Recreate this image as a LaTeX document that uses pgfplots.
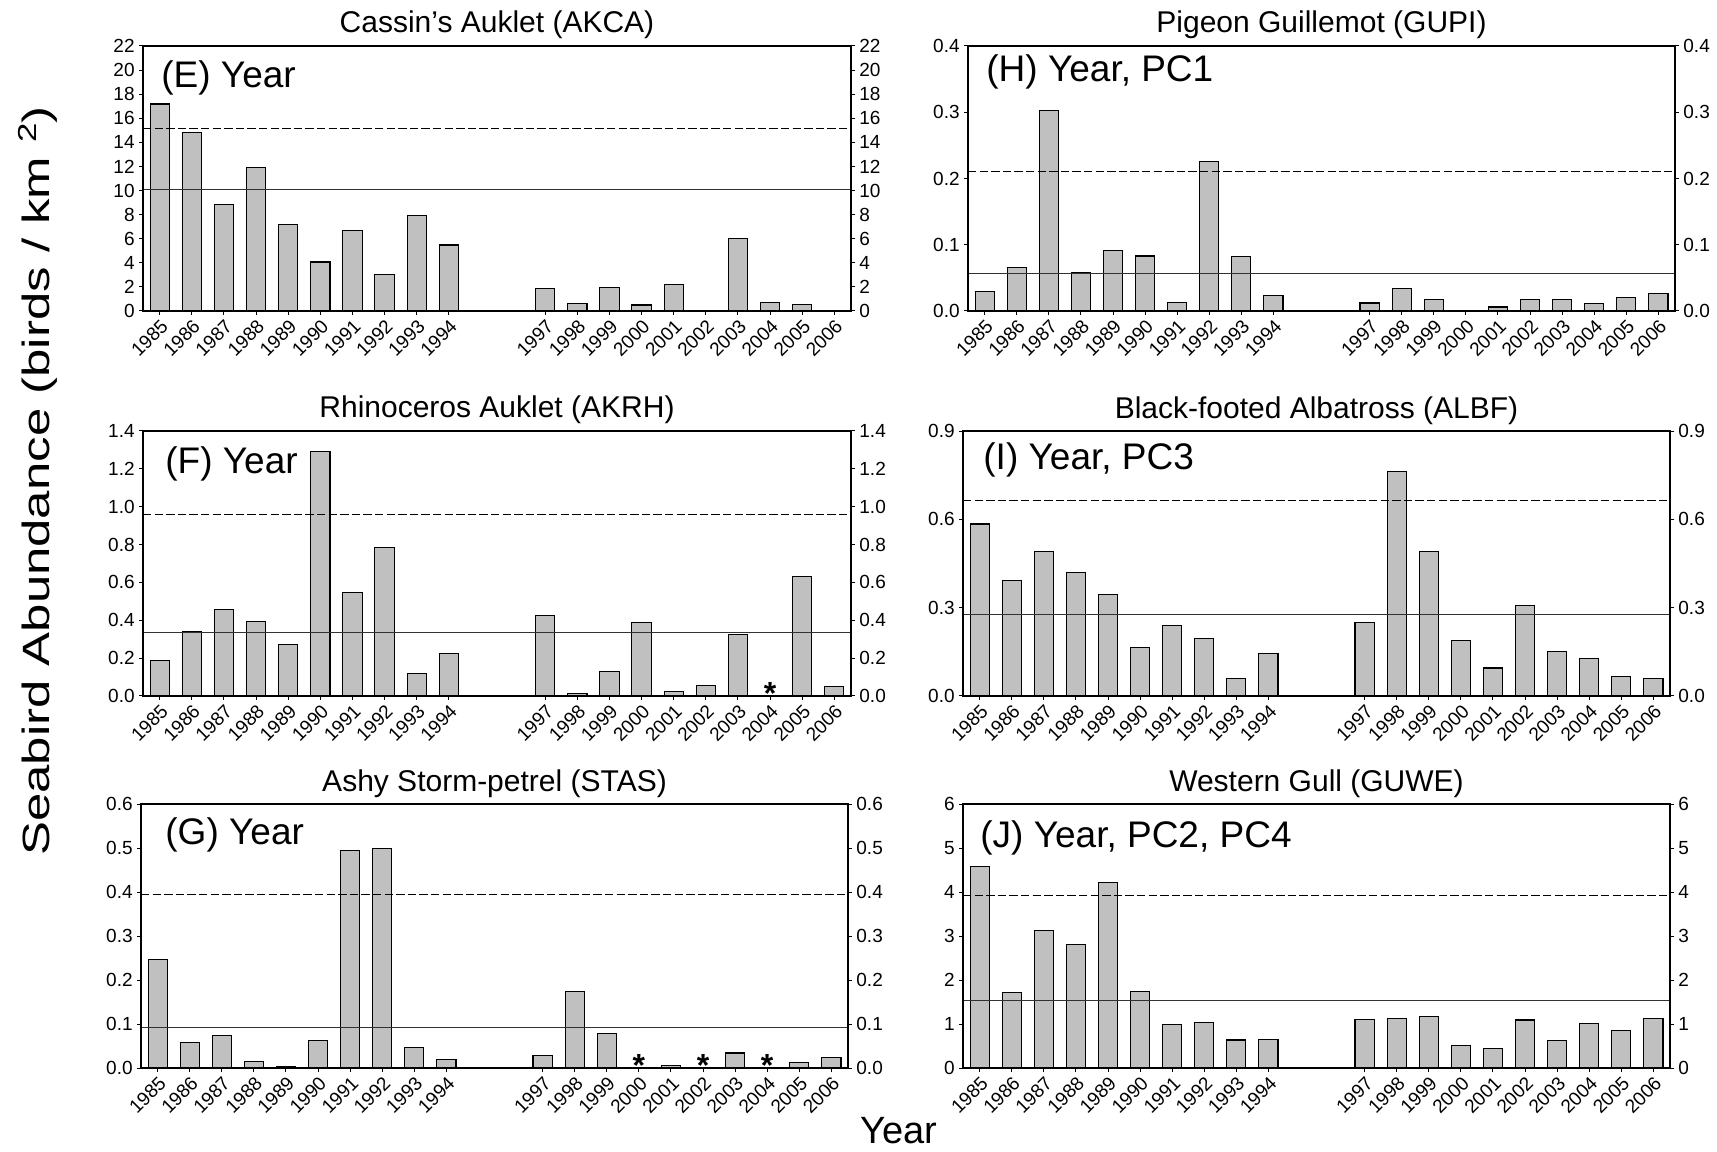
\documentclass[border=0pt]{standalone}
\usepackage{pgfplots}
\pgfplotsset{compat=1.18}
\usepackage{fontspec}
\setmainfont{Liberation Sans}
\newfontfamily\ylabfont[FakeStretch=1.34]{Liberation Sans}
\definecolor{barfill}{RGB}{192,192,192}
\definecolor{meanline}{RGB}{50,50,50}
\newcommand{\ticksize}{\fontsize{9.5}{11}\selectfont}
\newcommand{\titlesize}{\fontsize{15}{17}\selectfont}
\newcommand{\panelsize}{\fontsize{18.5}{22}\selectfont}

\pgfplotsset{
  pan/.style={
    anchor=south west, scale only axis,
    xmin=1984.48, xmax=2006.52, ymin=0,
    axis line style={line width=0.6pt},
    tick align=outside, major tick length=2pt,
    tick style={line width=0.5pt, black},
    xtick={1985,1986,1987,1988,1989,1990,1991,1992,1993,1994,1997,1998,1999,2000,2001,2002,2003,2004,2005,2006},
    xticklabels={1985,1986,1987,1988,1989,1990,1991,1992,1993,1994,1997,1998,1999,2000,2001,2002,2003,2004,2005,2006},
    x tick label style={rotate=45, anchor=north east, font=\ticksize, inner sep=1pt},
    y tick label style={font=\ticksize, inner sep=2pt},
    xtick pos=bottom, ytick pos=left,
    title style={font=\titlesize, at={(0.5,1)}, anchor=base, yshift=0.5pt},
    clip=false,
  },
  panr/.style={
    anchor=south west, scale only axis,
    xmin=1984.48, xmax=2006.52, ymin=0,
    axis line style={line width=0.6pt},
    tick align=outside, major tick length=2pt,
    tick style={line width=0.5pt, black},
    xtick=\empty,
    y tick label style={font=\ticksize, inner sep=2pt},
    ytick pos=right, yticklabel pos=right,
  },
  bars/.style={ybar, bar width=0.6, fill=barfill, draw=black, line width=0.55pt},
  meanl/.style={meanline, line width=0.5pt},
  sdl/.style={black, line width=0.5pt, dash pattern=on 4.2pt off 1.6pt},
  ast/.style={only marks, mark=text, text mark={\bfseries\fontsize{16}{16}\selectfont *}},
}

\begin{document}
\begin{tikzpicture}[x=1pt,y=1pt]
\path[use as bounding box] (0,0) rectangle (858.5,575.5);

% ---------- (E) Cassin's Auklet
\begin{axis}[pan, at={(71.5pt,420pt)}, width=354pt, height=132.5pt, ymax=22,
  ytick={0,2,...,22}, yticklabels={0,2,4,6,8,10,12,14,16,18,20,22},
  title={Cassin's Auklet (AKCA)}]
\addplot[bars] coordinates {
(1985,17.18) (1986,14.8) (1987,8.85) (1988,11.93) (1989,7.17) (1990,4.07)
(1991,6.7) (1992,3.04) (1993,7.94) (1994,5.48)
(1997,1.88) (1998,0.64) (1999,1.96) (2000,0.5) (2001,2.21) (2002,0.06)
(2003,6.0) (2004,0.72) (2005,0.55) (2006,0.06)};
\addplot[meanl] coordinates {(1984.48,10.08) (2006.52,10.08)};
\addplot[sdl] coordinates {(1984.48,15.14) (2006.52,15.14)};
\node[anchor=base west, inner sep=0pt, font=\panelsize, xshift=9pt, yshift=-21pt] at (rel axis cs:0,1) {(E) Year};
\end{axis}
\begin{axis}[panr, at={(71.5pt,420pt)}, width=354pt, height=132.5pt, ymax=22,
  ytick={0,2,...,22}, yticklabels={0,2,4,6,8,10,12,14,16,18,20,22}]
\end{axis}

% ---------- (H) Pigeon Guillemot
\begin{axis}[pan, at={(484pt,420pt)}, width=353.5pt, height=132.5pt, ymax=0.4,
  ytick={0,0.1,0.2,0.3,0.4}, yticklabels={0.0,0.1,0.2,0.3,0.4},
  title={Pigeon Guillemot (GUPI)}]
\addplot[bars] coordinates {
(1985,0.030) (1986,0.066) (1987,0.302) (1988,0.058) (1989,0.091) (1990,0.083)
(1991,0.013) (1992,0.226) (1993,0.082) (1994,0.024)
(1997,0.012) (1998,0.034) (1999,0.018) (2000,0.001) (2001,0.006) (2002,0.018)
(2003,0.017) (2004,0.011) (2005,0.021) (2006,0.026)};
\addplot[meanl] coordinates {(1984.48,0.0565) (2006.52,0.0565)};
\addplot[sdl] coordinates {(1984.48,0.210) (2006.52,0.210)};
\node[anchor=base west, inner sep=0pt, font=\panelsize, xshift=9pt, yshift=-18pt] at (rel axis cs:0,1) {(H) Year, PC1};
\end{axis}
\begin{axis}[panr, at={(484pt,420pt)}, width=353.5pt, height=132.5pt, ymax=0.4,
  ytick={0,0.1,0.2,0.3,0.4}, yticklabels={0.0,0.1,0.2,0.3,0.4}]
\end{axis}

% ---------- (F) Rhinoceros Auklet
\begin{axis}[pan, at={(71.5pt,227.5pt)}, width=354pt, height=132.5pt, ymax=1.4,
  ytick={0,0.2,0.4,0.6,0.8,1.0,1.2,1.4}, yticklabels={0.0,0.2,0.4,0.6,0.8,1.0,1.2,1.4},
  title={Rhinoceros Auklet (AKRH)}]
\addplot[bars] coordinates {
(1985,0.189) (1986,0.342) (1987,0.458) (1988,0.395) (1989,0.272) (1990,1.29)
(1991,0.547) (1992,0.785) (1993,0.118) (1994,0.224)
(1997,0.423) (1998,0.014) (1999,0.129) (2000,0.39) (2001,0.023) (2002,0.055)
(2003,0.324) (2005,0.633) (2006,0.049)};
\addplot[meanl] coordinates {(1984.48,0.333) (2006.52,0.333)};
\addplot[sdl] coordinates {(1984.48,0.961) (2006.52,0.961)};
\addplot[ast] coordinates {(2004,0.012)};
\node[anchor=base west, inner sep=0pt, font=\panelsize, xshift=11pt, yshift=-21.5pt] at (rel axis cs:0,1) {(F) Year};
\end{axis}
\begin{axis}[panr, at={(71.5pt,227.5pt)}, width=354pt, height=132.5pt, ymax=1.4,
  ytick={0,0.2,0.4,0.6,0.8,1.0,1.2,1.4}, yticklabels={0.0,0.2,0.4,0.6,0.8,1.0,1.2,1.4}]
\end{axis}

% ---------- (I) Black-footed Albatross
\begin{axis}[pan, at={(481.5pt,227.5pt)}, width=353.5pt, height=132.5pt, ymax=0.9,
  ytick={0,0.3,0.6,0.9}, yticklabels={0.0,0.3,0.6,0.9},
  title={Black-footed Albatross (ALBF)}]
\addplot[bars] coordinates {
(1985,0.584) (1986,0.393) (1987,0.491) (1988,0.418) (1989,0.346) (1990,0.164)
(1991,0.239) (1992,0.195) (1993,0.060) (1994,0.143)
(1997,0.249) (1998,0.761) (1999,0.491) (2000,0.188) (2001,0.095) (2002,0.307)
(2003,0.150) (2004,0.126) (2005,0.067) (2006,0.059)};
\addplot[meanl] coordinates {(1984.48,0.2755) (2006.52,0.2755)};
\addplot[sdl] coordinates {(1984.48,0.665) (2006.52,0.665)};
\node[anchor=base west, inner sep=0pt, font=\panelsize, xshift=10pt, yshift=-19pt] at (rel axis cs:0,1) {(I) Year, PC3};
\end{axis}
\begin{axis}[panr, at={(481.5pt,227.5pt)}, width=353.5pt, height=132.5pt, ymax=0.9,
  ytick={0,0.3,0.6,0.9}, yticklabels={0.0,0.3,0.6,0.9}]
\end{axis}

% ---------- (G) Ashy Storm-petrel
\begin{axis}[pan, at={(70.5pt,41.5pt)}, width=353.5pt, height=132pt, ymax=0.6,
  ytick={0,0.1,0.2,0.3,0.4,0.5,0.6}, yticklabels={0.0,0.1,0.2,0.3,0.4,0.5,0.6},
  title={Ashy Storm-petrel (STAS)}]
\addplot[bars] coordinates {
(1985,0.246) (1986,0.058) (1987,0.074) (1988,0.015) (1989,0.003) (1990,0.062)
(1991,0.494) (1992,0.498) (1993,0.046) (1994,0.020)
(1997,0.028) (1998,0.174) (1999,0.078) (2001,0.005)
(2003,0.034) (2005,0.012) (2006,0.0235)};
\addplot[meanl] coordinates {(1984.48,0.0925) (2006.52,0.0925)};
\addplot[sdl] coordinates {(1984.48,0.394) (2006.52,0.394)};
\addplot[ast] coordinates {(2000,0.005) (2002,0.005) (2004,0.005)};
\node[anchor=base west, inner sep=0pt, font=\panelsize, xshift=12pt, yshift=-20pt] at (rel axis cs:0,1) {(G) Year};
\end{axis}
\begin{axis}[panr, at={(70.5pt,41.5pt)}, width=353.5pt, height=132pt, ymax=0.6,
  ytick={0,0.1,0.2,0.3,0.4,0.5,0.6}, yticklabels={0.0,0.1,0.2,0.3,0.4,0.5,0.6}]
\end{axis}

% ---------- (J) Western Gull
\begin{axis}[pan, at={(481.5pt,41.5pt)}, width=353.5pt, height=132pt, ymax=6,
  ytick={0,1,2,3,4,5,6}, yticklabels={0,1,2,3,4,5,6},
  title={Western Gull (GUWE)}]
\addplot[bars] coordinates {
(1985,4.58) (1986,1.72) (1987,3.12) (1988,2.81) (1989,4.22) (1990,1.745)
(1991,0.986) (1992,1.03) (1993,0.637) (1994,0.645)
(1997,1.108) (1998,1.13) (1999,1.18) (2000,0.508) (2001,0.448) (2002,1.09)
(2003,0.63) (2004,1.01) (2005,0.85) (2006,1.115)};
\addplot[meanl] coordinates {(1984.48,1.525) (2006.52,1.525)};
\addplot[sdl] coordinates {(1984.48,3.93) (2006.52,3.93)};
\node[anchor=base west, inner sep=0pt, font=\panelsize, xshift=8.5pt, yshift=-21.5pt] at (rel axis cs:0,1) {(J) Year, PC2, PC4};
\end{axis}
\begin{axis}[panr, at={(481.5pt,41.5pt)}, width=353.5pt, height=132pt, ymax=6,
  ytick={0,1,2,3,4,5,6}, yticklabels={0,1,2,3,4,5,6}]
\end{axis}

% ---------- axis labels
\node[font=\fontsize{19}{22}\selectfont] at (449.5,10) {Year};
\node[rotate=90, font=\ylabfont\fontsize{19}{22}\selectfont] at (19,335) {Seabird Abundance (birds / km \raisebox{0.35em}{\fontsize{13}{13}\selectfont 2})};
\end{tikzpicture}
\end{document}
